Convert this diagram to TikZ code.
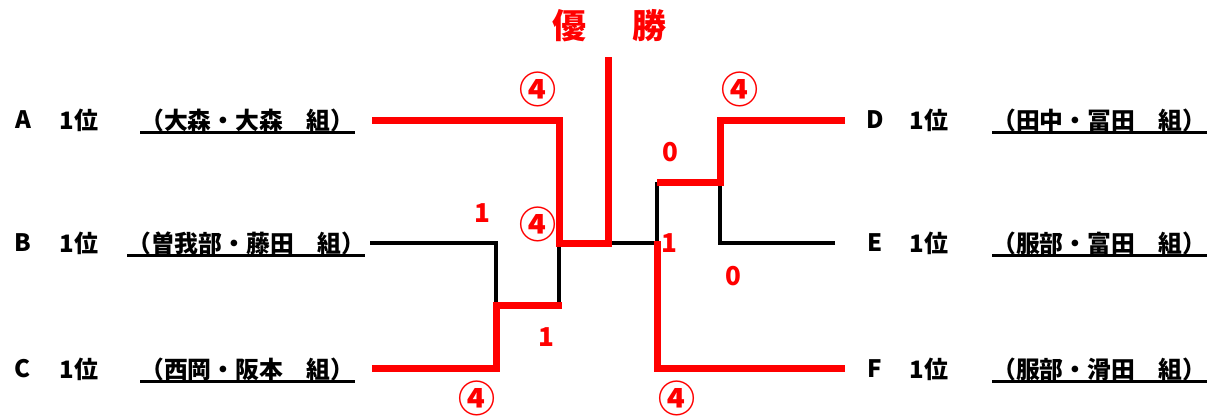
\documentclass[tikz,border=0pt]{standalone}
\usepackage{fontspec}
\setmainfont{Noto Sans CJK JP}
\usetikzlibrary{positioning}

\begin{document}
\begin{tikzpicture}[
  x=1pt, y=-1pt,
  team/.style={font=\fontsize{24}{24}\selectfont\bfseries, inner sep=0pt},
  pair/.style={font=\fontsize{23.8}{24}\selectfont\bfseries, inner sep=0pt, anchor=west},
  uline/.style={line width=2.6pt},
  score/.style={font=\fontsize{26}{26}\selectfont\bfseries, text=red, inner sep=0pt},
  win/.style={font=\fontsize{37}{37}\selectfont\bfseries, text=red, inner sep=0pt},
  lost/.style={line width=4.5pt},
  won/.style={red, line width=7pt}
]
\useasboundingbox (0,0) rectangle (1214,415);

% title
\node[font=\fontsize{34}{34}\selectfont\bfseries, text=red] (title) at (609.5,26) {優\hspace{47pt}勝};

% teams, left
\foreach \t/\y/\x/\name in {A/120/140/{（大森・大森　組）},
                            B/243/127/{（曽我部・藤田　組）},
                            C/369/140/{（西岡・阪本　組）}}{
  \node[team] (t\t) at (23,\y) {\t};
  \node[team] (r\t) at (79,\y) {1位};
  \node[pair] (n\t) at (\x,\y) {\name};
}

% teams, right
\foreach \t/\y/\name in {D/120/{（田中・冨田　組）},
                         E/243/{（服部・富田　組）},
                         F/369/{（服部・滑田　組）}}{
  \node[team] (t\t) at (875,\y) {\t};
  \node[team] (r\t) at (929,\y) {1位};
  \node[pair] (n\t) at (992,\y) {\name};
}

\foreach \t in {A,B,C,D,E,F}
  \draw[uline] ([yshift=-12.5pt]n\t.west) -- ([yshift=-12.5pt]n\t.east);

% bracket points
\coordinate (a0) at (372,120);
\coordinate (a1) at (559,120);
\coordinate (b0) at (370,243);
\coordinate (b1) at (496,243);
\coordinate (c0) at (372,368);
\coordinate (c1) at (496,368);
\coordinate (bc) at (496,305);
\coordinate (bc2) at (559,305);
\coordinate (abc) at (559,243);
\coordinate (fin) at (608,243);
\coordinate (top) at (608,57);
\coordinate (d0) at (845,120);
\coordinate (d1) at (720,120);
\coordinate (e0) at (835,243);
\coordinate (e1) at (720,243);
\coordinate (de) at (720,182);
\coordinate (de2) at (657,182);
\coordinate (def) at (657,243);
\coordinate (f0) at (845,368);
\coordinate (f1) at (657,368);

% lost lines
\draw[lost] (b0) -- (b1) -- (bc);
\draw[lost] (bc2) -- (abc);
\draw[lost] (e0) -- (e1) -- (de);
\draw[lost] (de2) -- (def) -- (fin);

% won lines
\draw[won] (c0) -- (c1) -- (bc) -- ([xshift=2.5pt]bc2);
\draw[won] (a0) -- (a1) -- (abc) -- (fin) -- (top);
\draw[won] (d0) -- (d1) -- (de) -- (de2);
\draw[won] (f0) -- (f1) -- ([yshift=2.5pt]def);

% scores
\node[win] (sA) at (538,89) {④};
\node[win] (sBC) at (538,224) {④};
\node[score] (sB) at (482,213) {1};
\node[score] (sBC2) at (546,337) {1};
\node[win] (sC) at (477,398) {④};
\node[win] (sD) at (740,89) {④};
\node[score] (sDE) at (670,152) {0};
\node[score] (sF) at (669,243) {1};
\node[score] (sE) at (733,276) {0};
\node[win] (sF2) at (677,398) {④};

\end{tikzpicture}
\end{document}
